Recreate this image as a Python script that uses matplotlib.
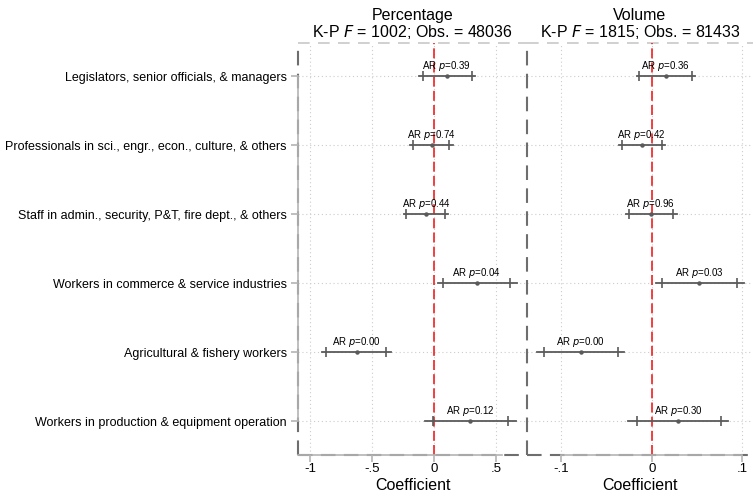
import matplotlib
matplotlib.use("Agg")
import matplotlib.pyplot as plt

plt.rcParams["font.family"] = ["Liberation Sans", "DejaVu Sans"]

occupations = [
    "Legislators, senior officials, & managers",
    "Professionals in sci., engr., econ., culture, & others",
    "Staff in admin., security, P&T, fire dept., & others",
    "Workers in commerce & service industries",
    "Agricultural & fishery workers",
    "Workers in production & equipment operation",
]

# Percentage panel
pct_coef = [0.102, -0.019, -0.065, 0.344, -0.624, 0.293]
pct_ci_lo = [-0.086, -0.172, -0.226, 0.070, -0.871, -0.011]
pct_ci_hi = [0.304, 0.124, 0.091, 0.613, -0.387, 0.599]
pct_ar_lo = [-0.118, -0.194, -0.240, 0.030, -0.906, -0.073]
pct_ar_hi = [0.331, 0.151, 0.115, 0.667, -0.349, 0.659]
pct_p = ["0.39", "0.74", "0.44", "0.04", "0.00", "0.12"]

# Volume panel
vol_coef = [0.0155, -0.0110, -0.0010, 0.0525, -0.0784, 0.0294]
vol_ci_lo = [-0.0137, -0.0331, -0.0247, 0.0110, -0.1189, -0.0166]
vol_ci_hi = [0.0442, 0.0110, 0.0238, 0.0938, -0.0375, 0.0765]
vol_ar_lo = [-0.0166, -0.0358, -0.0284, 0.0047, -0.1270, -0.0258]
vol_ar_hi = [0.0478, 0.0147, 0.0276, 0.1019, -0.0302, 0.0845]
vol_p = ["0.36", "0.42", "0.96", "0.03", "0.00", "0.30"]

pct_ticks = [-1, -0.5, 0, 0.5]
pct_ticklabels = ["-1", "-.5", "0", ".5"]
vol_ticks = [-0.1, 0, 0.1]
vol_ticklabels = ["-.1", "0", ".1"]

W, H = 753, 498
fig = plt.figure(figsize=(W / 100, H / 100), dpi=100)
bottom = 1 - 455 / H
height = (455 - 43) / H
ax1 = fig.add_axes([298 / W, bottom, (527 - 298) / W, height])
ax2 = fig.add_axes([527 / W, bottom, (753 - 527) / W, height])

ypos = list(range(1, len(occupations) + 1))
light = "#b4b4b4"
dark = "#6e6e6e"
barc = "#5a5a5a"


def panel(ax, coef, lo, hi, alo, ahi, pvals, ticks, labels, xlim, title):
    ax.set_xlim(*xlim)
    ax.set_ylim(6.49, 0.52)
    for s in ax.spines.values():
        s.set_visible(False)

    # grid
    for t in ticks:
        ax.axvline(t, color="#cccccc", lw=0.8, ls=(0, (1, 2.5)), zorder=0)
    for y in ypos:
        ax.axhline(y, color="#cccccc", lw=0.8, ls=(0, (1, 2.5)), zorder=0)

    # dashed frame
    ax.plot([0, 1], [1, 1], transform=ax.transAxes, color="#c8c8c8", lw=1.2,
            ls=(0, (7, 5)), clip_on=False, zorder=1)
    ax.plot([0, 1], [0, 0], transform=ax.transAxes, color=dark, lw=1.5,
            ls=(0, (7, 4)), clip_on=False, zorder=1)
    ax.plot([0, 0], [0, 1], transform=ax.transAxes, color=dark, lw=1.5,
            ls=(0, (7, 4)), clip_on=False, zorder=1)

    ax.axvline(0, color="#f02020", lw=1.2, ls=(0, (6, 2.5)), zorder=2)

    for y, c, l, h, al, ah, p in zip(ypos, coef, lo, hi, alo, ahi, pvals):
        ax.plot([al, ah], [y, y], color=barc, lw=1.3, zorder=3)
        ax.plot([l, h], [y, y], color=barc, lw=0, marker="|", ms=7, mew=1.2, zorder=3)
        ax.plot([c], [y], color=barc, marker="o", ms=2.2, zorder=4)
        ax.text(c, y - 0.04, "AR $p$=" + p, ha="center", va="bottom",
                fontsize=7, zorder=5)

    ax.set_xticks(ticks)
    ax.set_xticklabels(labels, fontsize=9.5)
    ax.tick_params(axis="x", length=5, color=light, width=1.2, pad=1)
    ax.set_xlabel("Coefficient", fontsize=11.5, labelpad=2)
    ax.set_title(title, fontsize=11.5, linespacing=1.0, pad=4)


panel(ax1, pct_coef, pct_ci_lo, pct_ci_hi, pct_ar_lo, pct_ar_hi, pct_p,
      pct_ticks, pct_ticklabels, (-1.097, 0.75),
      "Percentage\nK-P $F$ = 1002; Obs. = 48036")
panel(ax2, vol_coef, vol_ci_lo, vol_ci_hi, vol_ar_lo, vol_ar_hi, vol_p,
      vol_ticks, vol_ticklabels, (-0.1376, 0.1118),
      "Volume\nK-P $F$ = 1815; Obs. = 81433")

# axis lines over tick range
ax1.spines["left"].set_visible(True)
ax1.spines["left"].set_color(light)
ax1.spines["left"].set_linewidth(1.2)
ax1.spines["left"].set_bounds(1, 6)
ax1.spines["left"].set_zorder(2)
for ax, b in ((ax1, (-1.1, 0.55)), (ax2, (-0.1, 0.1))):
    ax.spines["bottom"].set_visible(True)
    ax.spines["bottom"].set_color(light)
    ax.spines["bottom"].set_linewidth(1.2)
    ax.spines["bottom"].set_bounds(*b)
    ax.spines["bottom"].set_zorder(2)

ax1.set_yticks(ypos)
ax1.set_yticklabels(occupations, fontsize=9)
ax1.tick_params(axis="y", length=5, color=light, width=1.2, pad=3)
ax2.set_yticks([])

fig.savefig("out.png", dpi=100)
